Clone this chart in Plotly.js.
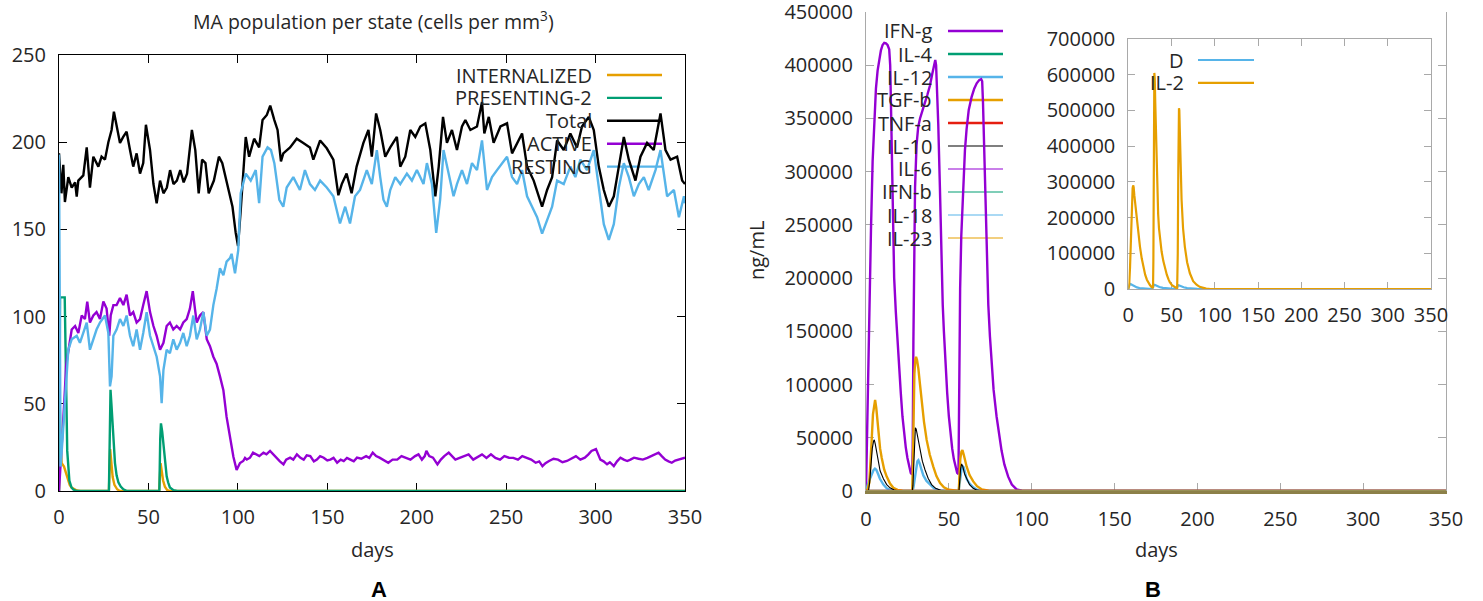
<!DOCTYPE html>
<html>
<head>
<meta charset="utf-8">
<script src="https://cdn.plot.ly/plotly-3.0.1.min.js"></script>
<style>
html,body{margin:0;padding:0;background:#fff;}
#chart{width:1483px;height:601px;}
</style>
</head>
<body>
<div id="chart"></div>
<script>
// ---------- Panel A: MA population per state, [day, cells per mm^3] ----------
const internalized = [[0,0],[0.5,45],[1,25],[1.5,16],[2.8,14],[4,10],[5,6],[6,3.5],[7,2],[8.5,1],[10,0.3],[12,0],
  [27.9,0],[28.6,24],[29.2,16],[30,8],[31,3.5],[32.5,1],[34,0],
  [56,0],[56.8,16],[57.4,12],[58.2,6],[59.2,2.5],[60.5,0.5],[62,0],[350,0]];

const presenting2 = [[0,0],[0.6,111],[3.2,111],[3.6,90],[3.9,61],[4.6,23],[5.8,6],[7,2],[8,0.8],[10,0],
  [27.9,0],[28.3,40],[28.8,58],[29.3,50],[30,39],[30.6,26],[31.3,16],[32.2,9],[33.2,5],[34.5,2.5],[36,1],[38,0],
  [56.1,0],[56.6,30],[57,38.8],[57.7,34],[58.7,23.7],[59.5,15],[60.2,8.4],[61,5],[62,2],[64,0.5],[66,0],[350,0]];

const totalCells = [[0,193.6],[1.4,170.7],[2.4,187],[3.3,165.7],[5.2,180],[7.1,174],[9,177],[9.9,168.8],[10.8,178],
  [13.6,181],[15.5,197],[17.3,174],[19.2,191.7],[22,186],[23.8,191.7],[25.7,190],[27.6,200],[29.4,207],[30.7,217.5],
  [32.2,210],[34.1,199.6],[35.9,203],[37.8,206],[39.7,195.5],[41.5,186],[43.4,193.6],[45.3,182],[47.1,188],[48.6,210],
  [50.9,195.5],[52.8,176],[54.6,165],[56.5,178],[58.4,170.7],[60.3,174],[62.1,184],[64,176],[65.9,178],[67.8,184],
  [69.7,177],[71.6,182],[74.3,207],[76.2,195.5],[78.1,170.7],[80,190],[81.9,188],[83.7,170.7],[86.6,178],[89.4,191.7],
  [91.3,188],[94.1,176],[97,163],[98.8,148],[100.1,140.5],[101.6,161],[104.4,203],[106.3,191.7],[109.1,202],[111.9,197],
  [113.8,212.7],[116.2,215.6],[118.1,221],[120.4,212.7],[122.2,207],[124.1,189],[125.4,193.6],[129.2,197],[132.9,202],
  [136.6,199.6],[140.3,197],[142.2,190],[146,201],[149.7,196.5],[153.4,190],[156.2,169.6],[158.1,176],[160.8,182],
  [163.6,170.7],[166.4,186],[170.2,199.6],[173,207],[174.9,191.7],[177.3,216.5],[179.6,207],[182.4,191.7],[185.2,197],
  [188.9,203],[190.8,186],[193.6,191.7],[196.4,207],[199.2,203],[202,209],[204.8,210.8],[207.6,195.5],[210.4,169],
  [212.3,186],[214.7,214.5],[216.9,199.6],[219.7,207],[222.5,195.5],[225.3,209],[227.2,212.7],[230,207],[233.7,209],
  [236.5,223],[237.8,205],[240.3,214.5],[243,199.6],[246.8,209],[250.5,210.8],[253.3,193.6],[256.1,199.6],[258.9,205],
  [261.7,186],[265.4,178],[270.1,163],[272.9,172.6],[275.7,180],[278.5,201],[282.2,195.5],[285.9,205],[289.6,197],
  [292.4,209],[296.2,214.5],[299,207],[301.8,186],[304.6,172.6],[307.4,163],[310.2,169],[313,186],[315.8,203],
  [318.6,190],[322.3,178],[325.1,191.7],[328.8,199.6],[332.5,195.5],[336.3,216.5],[339.1,195.5],[341.9,190],
  [345.6,191.7],[348.4,178],[350,176]];

const activeCells = [[0,0],[0.5,8],[1,14],[2,30],[3,52],[4,72],[5.2,81],[7.1,92.6],[9,94.6],[10.8,90.6],[12.7,100.6],
  [14.5,98.6],[15.8,108.6],[17.3,96.6],[19.2,100.6],[21,102.6],[22.9,98.6],[24.8,108.6],[26.6,104.6],[28.1,89],
  [28.9,100.6],[30.4,106.6],[32.2,106.6],[34.1,110.6],[36,106.6],[37.8,112.6],[39.7,100.6],[41.5,102.6],[43.4,96.6],
  [45.3,98.6],[47.1,106.6],[49,114.6],[50.9,102.6],[52.8,94.6],[54.6,89],[56.5,81],[58.4,85],[60.2,94.6],[62,96.6],
  [63.9,92.6],[65.8,94.6],[67.7,92.6],[69.5,96.6],[71.4,98.6],[73.2,104.6],[74.8,114.6],[76,104.6],[77,96.6],
  [78.8,100.6],[80.7,102.6],[82.6,87],[84.4,83],[86.3,77],[88.1,73],[90,65.7],[91.9,57.8],[93.7,42.5],[95.6,31],
  [97.5,19.6],[99.3,12],[101.2,16],[103,17.2],[104,19],[105,18],[106.8,19.1],[108.5,22],[110.5,21],[112,20],[114.3,22],
  [116,21],[118,23],[119.8,21],[121.8,19.1],[123.5,17],[125.5,15.3],[127,18],[129.2,19.1],[131,18],[133,21],[135,19],
  [136.8,18],[138.5,20.5],[140.5,20],[142.5,17],[144.2,18],[146,20],[148,19.1],[150,17.5],[151.7,18],[153.5,19],
  [155.5,16.2],[157.5,18],[159.2,17.2],[161,19],[162.9,18],[164.8,17],[166.6,19.1],[169,18.5],[171.7,20],[173.5,19],
  [175.4,22],[177.3,20],[179.2,19.1],[181.5,17.5],[184.1,16.2],[186.5,18],[189.1,18],[191.5,20],[194.2,19.1],
  [196.5,18],[199.1,20],[201,21],[202.9,18],[204.5,20],[205.4,23],[207,20],[209.1,19.1],[211.6,15.3],[213.5,18],
  [215.4,20],[217.9,22],[219.5,20],[221.6,18],[224,19],[226.6,20],[229,21],[231.6,18],[234,19.5],[236.5,21],[239,19],
  [241.5,21],[244,19],[246.6,18],[249,20],[251.6,19.1],[254,19],[256.6,18],[259,20],[261.5,19.1],[264,18],[266.5,16.2],
  [268.5,17],[270.3,14.3],[272,16],[274,17.2],[276.5,18.5],[279,18],[281.5,16.5],[284,17.2],[286.5,18.5],[289,20],
  [291.5,18],[294,19.1],[296,21],[297.7,23],[300.2,24],[302.7,18],[304.5,17],[306.4,15.3],[308,16.5],[310.2,14.3],
  [312,17],[313.9,19.1],[315.8,18],[317.7,17.2],[319.5,18],[321.5,19.1],[324,18.5],[326.4,18],[329,19],[331.4,20],
  [333.5,21],[335.2,22],[337,20],[338.9,18],[340.8,17],[342.6,16.2],[344.5,17.5],[346.4,18],[348.2,18.5],[350,19.1]];

const restingCells = [[0,193],[0.3,150],[0.6,60],[0.9,14],[2,30],[3.4,52],[5.2,81],[7.1,87],[9.9,89],[11.7,85],
  [13.6,90.6],[15.5,96.6],[17.3,81],[19.2,87],[21,92.6],[22.9,96.6],[25.7,100.6],[27.6,90.6],[28.5,60],[29.4,65.7],
  [30.4,89],[32.2,92.6],[34.1,98.6],[36,94.6],[37.8,100.6],[39.7,89],[41.5,83],[43.4,92.6],[45.3,81],[47.1,90.6],
  [49,102.6],[50.9,89],[52.8,83],[54.6,77],[56.5,65.7],[57.4,50.4],[58.4,69.5],[60.2,81],[62,79],[63.9,87],[65.8,81],
  [67.7,85],[69.5,90.6],[71.4,83],[73.2,89],[75.1,100.6],[77,87],[78.8,92.6],[80.7,102.6],[82.6,89],[84.4,92.6],
  [86.3,106.6],[88.1,115.8],[90,127.7],[91.9,123.7],[93.7,131.5],[95.6,133.5],[96.5,136],[98.4,124.8],[100.2,138],
  [101.6,170.7],[104.4,182],[107.2,178],[110,184],[111.9,165],[113.8,191.7],[116.6,197],[118.5,195.5],[120.4,188],
  [123.2,167],[125.4,163],[127.3,174],[131,180],[134.7,172.6],[137.5,184],[140.3,176],[143.1,172.6],[146,178],
  [149.7,174],[153.4,169],[157.1,153.4],[160,163],[162.7,153.4],[165.5,169],[168.3,172.6],[172.1,184],[174.9,176],
  [177.7,195.5],[179.6,180],[181.4,167],[183.3,163],[185.2,172.6],[188,180],[190.8,176],[194.5,182],[197.3,178],
  [200.1,184],[203.8,176],[205.7,188],[208.5,176],[210.9,148],[213.1,167],[215,195.5],[217.8,182],[220.6,169],
  [222.5,176],[225.3,184],[228.1,176],[230.9,188],[233.7,184],[236.5,201],[239.3,172.6],[242.1,180],[244.9,184],
  [247.7,188],[250.5,191.7],[253.3,180],[256.1,176],[258.9,184],[261.7,169],[264.5,163],[267.3,157],[270.1,147.6],
  [272.9,155],[275.7,163],[278.5,178],[282.2,176],[285.9,186],[288.7,180],[291.5,190],[295.2,184],[299,195.5],
  [301.8,172.6],[304.6,153],[307.4,144],[310.2,153],[313,174],[315.8,188],[318.6,180],[321.4,169],[324.2,176],
  [327,180],[329.7,172.6],[333.5,184],[336.3,195.5],[340,169],[343.8,172.6],[346.6,157],[349.4,169],[350,165]];

// ---------- Panel B: cytokine concentrations, [day, ng/mL] ----------
const ifnG = [[0,0],[0.5,45000],[1,90000],[1.5,140000],[2,180000],[2.5,205000],[3,245000],[4,310000],[5,350000],
  [6,378000],[7,395000],[8,407000],[9,414000],[10,419000],[11,421000],[12,420500],[13,419000],[14,415000],[14.6,400000],
  [15.1,360000],[15.6,310000],[16.2,255000],[17,200000],[18,168000],[19,140000],[20,117000],[21,92000],[22,70000],
  [23,53000],[24,41000],[25,31000],[26,22000],[27,17000],[27.8,15500],
  [28.2,40000],[28.6,140000],[29,200000],[29.6,285000],[30.5,325000],[31.5,342000],[32.6,350000],[34,358000],
  [35.6,365000],[37,372000],[38.6,381000],[40,392000],[41.2,403000],[41.8,405000],[42.3,400000],[42.8,380000],
  [43.6,345000],[44.6,285000],[45.5,210000],[46.3,175000],[47,150000],[48,117000],[49,92000],[50,70000],[51,53000],
  [52,40000],[53,30000],[54,22000],[55,17000],[55.8,16000],
  [56.1,60000],[56.4,150000],[56.8,190000],[57.5,240000],[58.7,290000],[59.7,320000],[60.7,340000],[62,358000],
  [63.7,370000],[65.3,378000],[66.8,383000],[68.3,386000],[69.5,387000],[70.1,385000],[70.6,365000],[71.3,320000],
  [72.2,260000],[73,210000],[73.8,175000],[74.8,145000],[75.8,117000],[77,95000],[78.8,70000],[80.3,52000],
  [81.8,38000],[83.5,25000],[85.8,13500],[88,6000],[90.9,1600],[94,300],[100,0],[350,0]];
const il4 = [[0,0],[350,0]];
const il12 = [[0,0],[0.4,3000],[1.3,7000],[2.4,11500],[3.5,16000],[4.5,19500],[5.4,21000],[6.2,20000],[7.3,16000],
  [8.4,11500],[10.5,6000],[12.5,2600],[14.5,1000],[17,200],[20,0],
  [27.8,0],[28.6,3000],[29.4,12000],[30.2,22000],[31,28000],[31.6,29000],[32.4,26000],[33.5,20000],[34.6,14600],
  [36.5,9500],[38.6,6000],[41,2500],[44,700],[48,0],
  [55.9,0],[56.3,5000],[56.8,12000],[57.5,19000],[58.3,23500],[59,22000],[60,16000],[60.7,11500],[62.5,7000],
  [64.7,3500],[67,1200],[70,200],[72,0],[350,0]];
const tgfB = [[0,0],[1,1500],[2,8000],[3,30000],[3.5,50000],[4.2,72000],[5,84000],[5.5,85500],[6.2,78000],[7.4,55000],
  [8.5,40000],[9.5,31000],[11,20000],[12.5,13500],[14.5,7000],[16.5,3000],[19,1000],[22,300],[27.9,0],
  [28.3,30000],[28.7,80000],[29.2,110000],[29.8,124000],[30.2,126000],[30.8,123000],[31.6,115000],[32.6,100000],
  [33.6,85000],[35,65000],[36.6,48000],[38.5,34000],[40.6,23000],[42.5,14000],[44.7,7500],[47,3500],[50,1200],
  [53,400],[56,0],
  [56.4,15000],[56.9,30000],[57.6,37000],[58.2,38500],[59,34000],[59.8,28000],[60.7,23000],[62.5,15000],[64.7,9000],
  [67,4500],[70,1500],[74,300],[80,0],[350,0]];
const tnfA = [[0,0],[350,0]];
const il10 = [[0,0],[1.5,0],[2.2,8000],[3,25000],[3.8,40000],[4.6,47000],[5,48000],[5.6,44000],[6.5,35000],
  [7.4,27500],[8.5,19000],[10.5,11500],[12.5,6000],[14.5,3000],[17,900],[20,0],
  [27.9,0],[28.3,5000],[28.8,30000],[29.3,50000],[29.8,59500],[30.3,58000],[31.2,50000],[32.6,39000],[34,28000],
  [35.6,20000],[37.5,12000],[39.6,6000],[42,2500],[45,700],[48,0],
  [56.1,0],[56.5,10000],[57.1,21000],[57.7,25500],[58.4,23000],[59.5,16000],[60.7,11500],[62.5,6000],[64.7,2500],
  [67,800],[70,0],[350,0]];
const il6 = [[0,0],[350,0]];
const ifnB = [[0,0],[350,0]];
const il18 = [[0,0],[350,0]];
const il23 = [[0,0],[350,0]];

// inset: D and IL-2
const dConc = [[0,0],[0.5,8000],[1.5,13000],[2.5,14000],[4,12000],[6,9000],[8,6500],[10,4500],[13,2800],[16,1700],
  [20,900],[24,400],[27.9,200],[28.4,8000],[29.5,12000],[31,11000],[33,8500],[36,5500],[40,3000],[44,1500],[48,700],
  [52,300],[55.9,150],[56.4,7000],[57.5,11000],[59,10000],[61,7500],[64,5000],[68,2500],[72,1200],[76,500],[80,200],
  [85,0],[350,0]];
const il2 = [[0,0],[1,10000],[2,60000],[3,150000],[4,240000],[5,282000],[5.6,290000],[6.2,285000],[7,262000],
  [8,238000],[9.7,202000],[11.5,160000],[13.5,118000],[15.5,86000],[17.3,62000],[19.5,40000],[21.5,26000],[23,19000],
  [25,11000],[27,5500],[28.6,3000],
  [29,80000],[29.4,300000],[29.8,560000],[30.1,605000],[30.6,590000],[31.2,520000],[32,420000],[32.7,342000],
  [33.5,270000],[34.5,210000],[35.5,170000],[36.6,142000],[38.5,105000],[40.5,78000],[42.3,60000],[44.5,40000],
  [46.5,27000],[48,19000],[50.5,11000],[53,6000],[55,3500],[56.5,3000],
  [57.2,100000],[57.8,330000],[58.3,480000],[58.6,506000],[59,500000],[59.6,440000],[60.5,330000],[61.6,250000],
  [63.3,170000],[65.4,118000],[68,75000],[71.2,44000],[75,22000],[78.9,12000],[82.5,6000],[86.6,3000],[90,1000],
  [95,0],[350,0]];

// tick values shared by all three x axes
const dayTicks = [0, 50, 100, 150, 200, 250, 300, 350];

// ---------- drawing ----------
const W = 1483, H = 601;
const px = x => x / W;          // pixel -> paper x
const py = y => 1 - y / H;      // pixel -> paper y

const PURPLE = '#9400d3', GREEN = '#009e73', SKY = '#56b4e9', ORANGE = '#e69f00',
      RED = '#e51e10', BLACK = '#000000';
const FONT = 'Open Sans, sans-serif';
const TXT = '#262626';

function line(pts, color, width, xa, ya) {
  return {
    type: 'scatter', mode: 'lines',
    x: pts.map(p => p[0]), y: pts.map(p => p[1]),
    xaxis: xa, yaxis: ya,
    line: { color: color, width: width, shape: 'linear' },
    hoverinfo: 'skip', showlegend: false
  };
}

const traces = [
  // Panel A, drawn in key order (RESTING last, on top)
  line(internalized, ORANGE, 2.4, 'x', 'y'),
  line(presenting2, GREEN, 2.4, 'x', 'y'),
  line(totalCells, BLACK, 2.4, 'x', 'y'),
  line(activeCells, PURPLE, 2.4, 'x', 'y'),
  line(restingCells, SKY, 2.4, 'x', 'y'),
  // Panel B main
  line(ifnG, PURPLE, 2.4, 'x2', 'y2'),
  line(il4, GREEN, 2.4, 'x2', 'y2'),
  line(il12, SKY, 2.4, 'x2', 'y2'),
  line(tgfB, ORANGE, 2.4, 'x2', 'y2'),
  line(tnfA, RED, 2.4, 'x2', 'y2'),
  line(il10, BLACK, 1.1, 'x2', 'y2'),
  line(il6, PURPLE, 1.1, 'x2', 'y2'),
  line(ifnB, GREEN, 1.1, 'x2', 'y2'),
  line(il18, SKY, 1.1, 'x2', 'y2'),
  line(il23, ORANGE, 1.1, 'x2', 'y2'),
  // Panel B inset
  line(dConc, SKY, 2.2, 'x3', 'y3'),
  line(il2, ORANGE, 2.2, 'x3', 'y3')
];

function axis(domain, range, opts) {
  return Object.assign({
    domain: domain, range: range, fixedrange: true,
    showgrid: false, zeroline: false,
    showline: true, mirror: 'ticks', linewidth: 1,
    ticks: 'inside', ticklen: 8, tickwidth: 1,
    tickfont: { family: FONT, size: 20, color: TXT },
    tickangle: 0, layer: 'below traces', ticklabelstandoff: 8
  }, opts);
}

const GREY = '#a9a9a9';
// the six cytokines that stay at zero stack on the bottom edge of panel B
const ZERO_BAND = '#8c8048';
const layout = {
  width: W, height: H,
  margin: { l: 0, r: 0, t: 0, b: 0, pad: 0 },
  paper_bgcolor: '#ffffff', plot_bgcolor: 'rgba(0,0,0,0)',
  font: { family: FONT, size: 20, color: TXT },
  showlegend: false,
  xaxis: axis([px(59), px(685)], [0, 350], { anchor: 'y', tickvals: dayTicks, linecolor: BLACK, tickcolor: BLACK }),
  yaxis: axis([py(491), py(55)], [0, 250], { anchor: 'x', dtick: 50, linecolor: BLACK, tickcolor: BLACK }),
  xaxis2: axis([px(866), px(1446)], [0, 350], { anchor: 'y2', tickvals: dayTicks, mirror: false,
    linecolor: ZERO_BAND, linewidth: 2.5, tickcolor: GREY }),
  // top edge of panel B
  xaxis4: axis([px(866), px(1446)], [0, 350], { anchor: 'y2', overlaying: 'x2', side: 'top', mirror: false,
    tickvals: dayTicks, showticklabels: false, linecolor: GREY, tickcolor: GREY }),
  yaxis2: axis([py(491), py(12)], [0, 450000], { anchor: 'x2', dtick: 50000, tickformat: 'd', linecolor: GREY, tickcolor: GREY }),
  xaxis3: axis([px(1128.3), px(1431)], [0, 350], { anchor: 'y3', tickvals: dayTicks, linecolor: GREY, tickcolor: GREY, ticklen: 7 }),
  yaxis3: axis([py(289), py(39)], [0, 700000], { anchor: 'x3', dtick: 100000, tickformat: 'd', linecolor: GREY, tickcolor: GREY, ticklen: 7 }),
  annotations: [],
  shapes: []
};

function label(text, x, y, o) {
  layout.annotations.push(Object.assign({
    text: text, xref: 'paper', yref: 'paper', x: px(x), y: py(y),
    xanchor: 'center', yanchor: 'middle', showarrow: false,
    font: { family: FONT, size: 20, color: TXT }
  }, o || {}));
}

// titles
label('MA population per state (cells per mm<sup>3</sup>)', 373, 21, { font: { family: FONT, size: 19.5, color: TXT } });
label('days', 372, 549);
label('days', 1156, 549);
label('ng/mL', 756, 251, { textangle: -90 });
label('<b>A</b>', 379, 589, { font: { family: 'Liberation Sans, Arial, sans-serif', size: 22, color: BLACK } });
label('<b>B</b>', 1153, 589, { font: { family: 'Liberation Sans, Arial, sans-serif', size: 22, color: BLACK } });

// gnuplot-style keys: right-aligned name followed by a line sample
function key(names, colors, widths, textRight, x0, x1, yTop, step) {
  names.forEach((n, i) => {
    const y = yTop + i * step;
    label(n, textRight, y, { xanchor: 'right' });
    layout.shapes.push({
      type: 'line', xref: 'paper', yref: 'paper', layer: 'below',
      x0: px(x0), x1: px(x1), y0: py(y), y1: py(y),
      line: { color: colors[i], width: widths[i] }
    });
  });
}

key(['INTERNALIZED', 'PRESENTING-2', 'Total', 'ACTIVE', 'RESTING'],
    [ORANGE, GREEN, BLACK, PURPLE, SKY], [2.4, 2.4, 2.4, 2.4, 2.4],
    594, 607, 662, 75, 22.9);

key(['IFN-g', 'IL-4', 'IL-12', 'TGF-b', 'TNF-a', 'IL-10', 'IL-6', 'IFN-b', 'IL-18', 'IL-23'],
    [PURPLE, GREEN, SKY, ORANGE, RED, BLACK, PURPLE, GREEN, SKY, ORANGE],
    [2.4, 2.4, 2.4, 2.4, 2.4, 1.1, 1.1, 1.1, 1.1, 1.1],
    934, 948, 1003, 31, 23);

key(['D', 'IL-2'], [SKY, ORANGE], [2.2, 2.2], 1186, 1198, 1254, 60, 22.8);

Plotly.newPlot('chart', traces, layout, { staticPlot: true, displayModeBar: false });
</script>
</body>
</html>
